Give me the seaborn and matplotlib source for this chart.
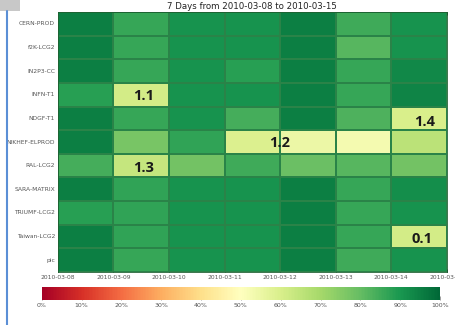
import numpy as np
import pandas as pd
import matplotlib
matplotlib.use("Agg")
import matplotlib.pyplot as plt
import seaborn as sns
from matplotlib.lines import Line2D
from matplotlib.patches import Rectangle

sns.set_theme(style="white")
plt.rcParams["font.family"] = ["DejaVu Sans"]

# sites (rows) and days (columns)
sites = ["CERN-PROD", "f2K-LCG2", "IN2P3-CC", "INFN-T1", "NDGF-T1", "NIKHEF-ELPROD",
         "RAL-LCG2", "SARA-MATRIX", "TRIUMF-LCG2", "Taiwan-LCG2", "pic"]
days = ["2010-03-08", "2010-03-09", "2010-03-10", "2010-03-11",
        "2010-03-12", "2010-03-13", "2010-03-14", "2010-03-15"]

# availability in %, one list per site
availability = [
    [95, 86, 91, 91, 95, 85, 91],
    [95, 86, 91, 91, 95, 82, 91],
    [95, 86, 91, 88, 95, 86, 93],
    [88, 61, 91, 91, 95, 86, 94],
    [95, 86, 91, 84, 95, 83, 60],
    [95, 77, 87, 59, 55, 53, 66],
    [84, 64, 78, 85, 79, 82, 78],
    [95, 87, 91, 91, 95, 86, 92],
    [88, 87, 91, 91, 95, 86, 91],
    [95, 87, 91, 91, 95, 86, 61],
    [95, 86, 91, 91, 95, 85, 91],
]

# overlaid labels
notes = ["1.1", "1.2", "1.3", "1.4", "0.1"]
note_x = [1.55, 4.0, 1.55, 6.6, 6.55]
note_y = [3.54, 5.55, 6.58, 4.65, 9.6]

df = pd.DataFrame(availability, index=sites, columns=days[:-1])

fig = plt.figure(figsize=(4.55, 3.25), dpi=100)
ax = fig.add_axes([0.127, 0.163, 0.855, 0.8])
cax = fig.add_axes([0.092, 0.077, 0.875, 0.04])

sns.heatmap(df, ax=ax, cmap="RdYlGn", vmin=0, vmax=100, cbar_ax=cax,
            cbar_kws={"orientation": "horizontal", "ticks": np.arange(0, 101, 10)},
            linewidths=0.2, linecolor="#2a8348")

for t, x, y in zip(notes, note_x, note_y):
    ax.text(x, y, t, ha="center", va="center", fontsize=10.5, fontweight="bold",
            color="#1a1a1a", family=["Open Sans", "DejaVu Sans"])

ax.set_title("7 Days from 2010-03-08 to 2010-03-15", fontsize=6.2, pad=2, color="#222222")
ax.set_xticks(np.arange(len(days)))
ax.set_xticklabels(days, rotation=0, fontsize=4.3, color="#555555")
ax.set_yticklabels(sites, rotation=0, fontsize=4.3, color="#555555")
ax.set_xlabel("")
ax.set_ylabel("")
ax.tick_params(axis="x", top=True, bottom=True, length=2, width=0.6, direction="in", pad=2, color="#111111")
ax.tick_params(axis="y", length=0, pad=2)
for s in ax.spines.values():
    s.set_visible(True)
    s.set_linewidth(0.6)
    s.set_color("#1b5e30")

cax.set_xticklabels([f"{v}%" for v in range(0, 101, 10)], fontsize=4.5, color="#555555")
cax.tick_params(axis="x", length=3, width=0.4, direction="in", pad=2, color="#555555")
cax.tick_params(axis="x", bottom=True)

# slide border remains from the screenshot
fig.add_artist(Line2D([0.016, 0.016], [0.0, 0.965], color="#5b8fd6", lw=1.5))
fig.add_artist(Rectangle((0.0, 0.965), 0.045, 0.035, color="#c8c8c8", lw=0))

fig.savefig("out.png", dpi=100)
